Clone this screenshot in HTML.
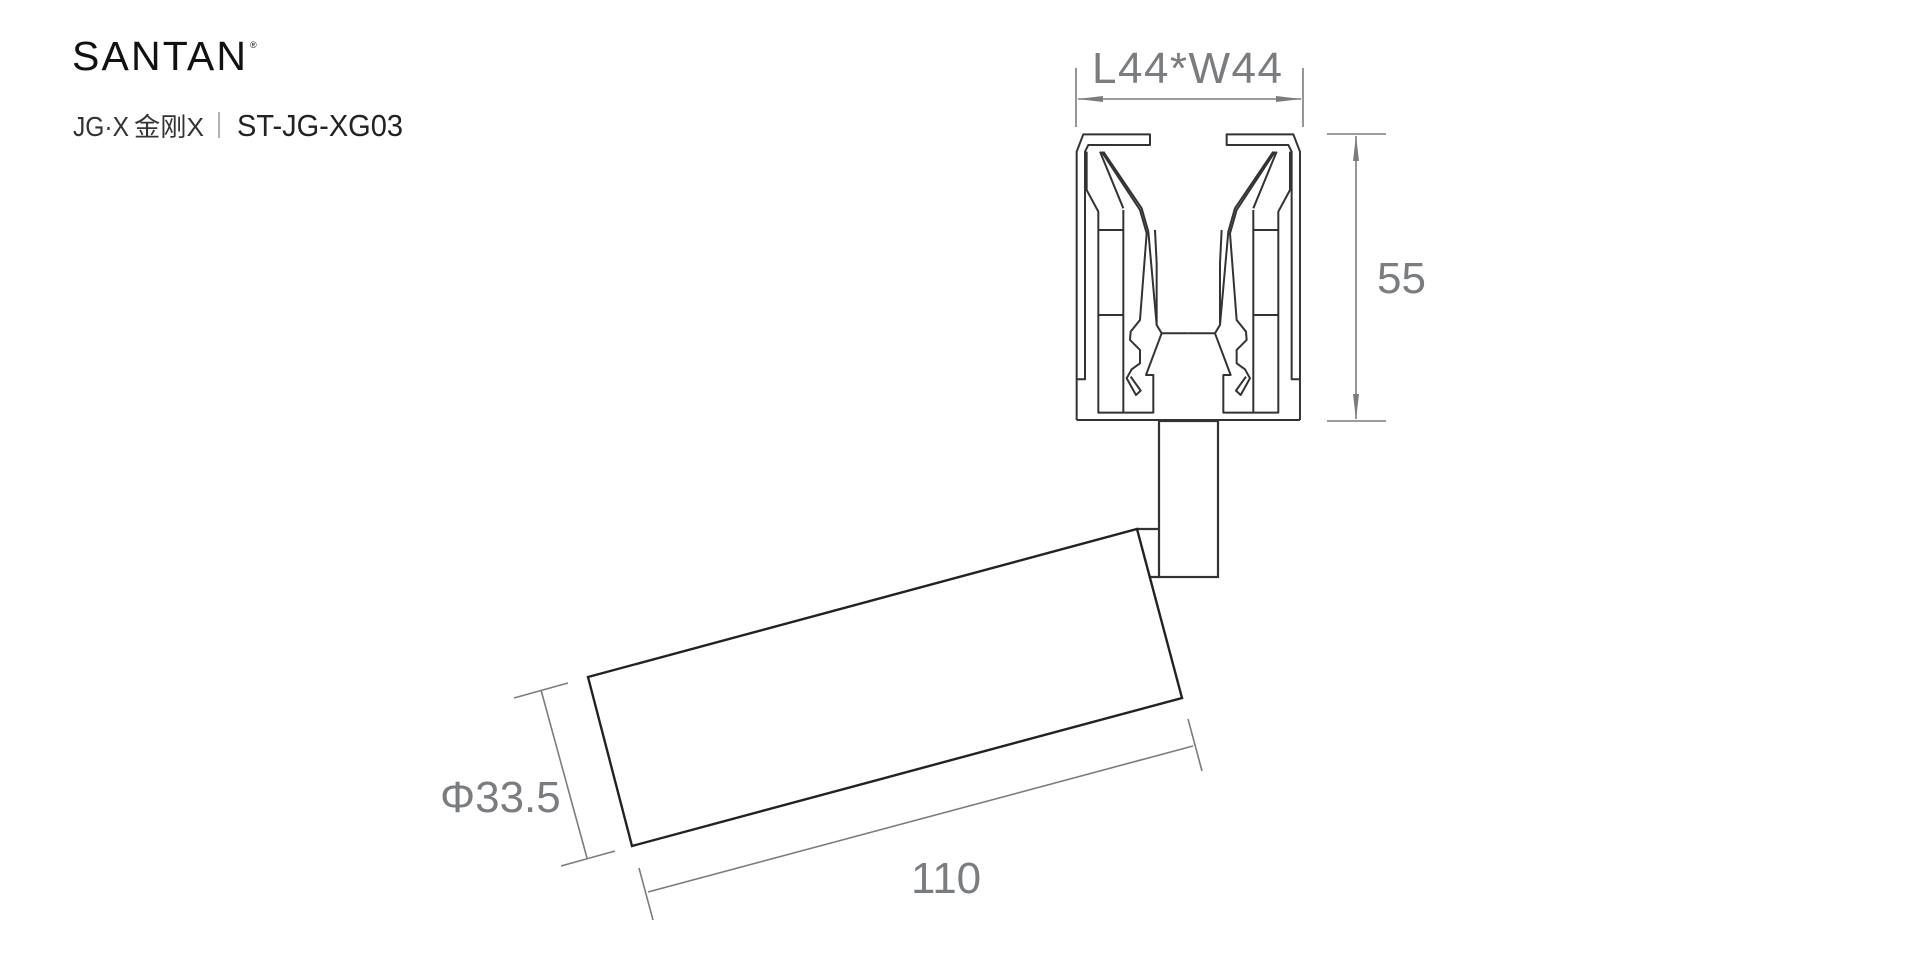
<!DOCTYPE html>
<html><head><meta charset="utf-8"><style>
html,body{margin:0;padding:0;background:#fff;}
body{width:1920px;height:960px;position:relative;overflow:hidden;}
svg{position:absolute;left:0;top:0;}
</style></head><body>
<svg width="1920" height="960" viewBox="0 0 1920 960" xmlns="http://www.w3.org/2000/svg">
<!-- logo -->
<text x="72" y="70" font-family="Liberation Sans, sans-serif" font-size="41" letter-spacing="2" fill="#111" textLength="176">SANTAN</text>
<text x="250" y="48" font-family="Liberation Sans, sans-serif" font-size="9" fill="#111">®</text>
<text x="73" y="136" font-family="Liberation Sans, 'Noto Sans CJK SC', sans-serif" font-size="28" fill="#333" textLength="56" lengthAdjust="spacingAndGlyphs">JG·X</text>
<text x="134" y="136" font-family="Liberation Sans, 'Noto Sans CJK SC', sans-serif" font-size="26" fill="#333" textLength="70" lengthAdjust="spacingAndGlyphs">金刚X</text>
<line x1="219" y1="112" x2="219" y2="138" stroke="#666" stroke-width="1"/>
<text x="237" y="136" font-family="Liberation Sans, sans-serif" font-size="31" fill="#222" textLength="166" lengthAdjust="spacingAndGlyphs">ST-JG-XG03</text>

<!-- adapter -->
<g transform="translate(1060,30) scale(0.3333)" fill="none" stroke="#333" stroke-width="6" stroke-linejoin="round">
  <g id="half">
    <path d="M50,1170 V365 L70,313 H270 V345 H85 L75,365 V1048 H50"/>
    <path d="M80,365 V480 L115,545 V1148 H280 V1035 H258 L305,910 L290,885 V700 L285,600"/>
    <path d="M115,600 H190 M115,855 H190 M190,540 V1148"/>
    <path d="M120,365 L190,535 M125,365 L240,540 L260,610 L240,870 L212,905 L210,930 L240,960 L240,1000 L215,1018 L200,1045 L228,1095 L242,1082 L212,1040"/>
    <path d="M130,365 L245,535 L265,605 L290,885"/>
    <path d="M305,910 H385"/>
  </g>
  <use href="#half" transform="translate(770,0) scale(-1,1)"/>
  <path d="M50,1170 H720"/>
</g>

<!-- stem -->
<g fill="none" stroke="#333" stroke-width="2.2">
  <rect x="1159" y="421" width="59" height="156"/>
  <path d="M1137,529 H1159 M1150,577 H1159"/>
  <polygon points="588,677 1137,529 1182,698 632,846" stroke="#222" stroke-width="2.4"/>
</g>

<!-- dimensions -->
<g stroke="#7a7d80" stroke-width="1.6" fill="none">
  <line x1="1076" y1="68" x2="1076" y2="127"/>
  <line x1="1303" y1="68" x2="1303" y2="127"/>
  <line x1="1078" y1="99" x2="1301" y2="99"/>
  <line x1="1327" y1="134" x2="1386" y2="134"/>
  <line x1="1327" y1="421" x2="1386" y2="421"/>
  <line x1="1356" y1="136" x2="1356" y2="419"/>
  <line x1="541" y1="690" x2="587" y2="858"/>
  <line x1="514" y1="698" x2="568" y2="683"/>
  <line x1="561" y1="866" x2="615" y2="851"/>
  <line x1="648" y1="892" x2="1193" y2="746"/>
  <line x1="639" y1="868" x2="653" y2="920"/>
  <line x1="1188" y1="719" x2="1202" y2="771"/>
</g>
<g fill="#7a7d80">
  <polygon points="1077,99 1103,96 1103,102"/>
  <polygon points="1302,99 1276,96 1276,102"/>
  <polygon points="1356,135 1353,161 1359,161"/>
  <polygon points="1356,420 1353,394 1359,394"/>
</g>
<g font-family="Liberation Sans, sans-serif" font-size="44" fill="#7a7d80">
  <text x="1092" y="83" textLength="190">L44*W44</text>
  <text x="1377" y="293">55</text>
  <text x="440" y="812">Φ33.5</text>
  <text x="911" y="893">110</text>
</g>
</svg>
</body></html>
